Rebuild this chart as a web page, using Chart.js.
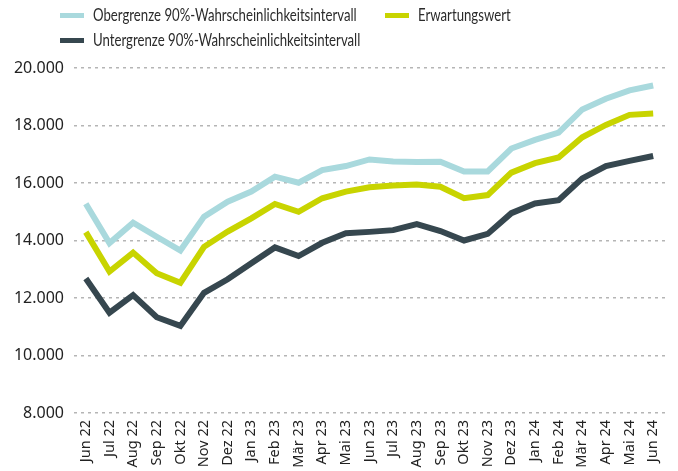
<!DOCTYPE html>
<html>
<head>
<meta charset="utf-8">
<script src="https://cdn.jsdelivr.net/npm/chart.js@4"></script>
<style>
    html, body { margin: 0; padding: 0; background: #fff; }
    #wrap { position: relative; width: 678px; height: 471px; }
    #legend { position: absolute; left: 60px; top: 5px; font-family: Lato, sans-serif; font-size: 16.5px; color: #2b2b2b;
              display: grid; grid-template-columns: 325px auto; row-gap: 5px; white-space: nowrap; }
    .item { display: flex; align-items: center; height: 20px; }
    .swatch { flex: 0 0 24px; height: 5px; margin-right: 9px; }
    .txt { display: inline-block; transform: scaleX(0.8); transform-origin: left center; }
</style>
</head>
<body>
<div id="wrap">
    <div id="legend"></div>
    <canvas id="chart" width="678" height="471"></canvas>
</div>
<script>
// ======================= DATEN =======================
const monate = ["Jun 22", "Jul 22", "Aug 22", "Sep 22", "Okt 22", "Nov 22", "Dez 22", "Jan 23", "Feb 23", "Mär 23",
    "Apr 23", "Mai 23", "Jun 23", "Jul 23", "Aug 23", "Sep 23", "Okt 23", "Nov 23", "Dez 23", "Jan 24",
    "Feb 24", "Mär 24", "Apr 24", "Mai 24", "Jun 24"];

const obergrenze = [15280, 13910, 14620, 14130, 13650, 14830, 15350, 15700, 16220, 16010,
    16450, 16590, 16820, 16750, 16730, 16740, 16400, 16400, 17200, 17500,
    17750, 18560, 18930, 19220, 19390];

const erwartungswert = [14290, 12920, 13580, 12860, 12530, 13780, 14310, 14770, 15270, 15000,
    15470, 15700, 15850, 15910, 15950, 15870, 15470, 15580, 16360, 16690,
    16890, 17590, 18020, 18370, 18420];

const untergrenze = [12680, 11490, 12100, 11330, 11030, 12180, 12650, 13210, 13760, 13460,
    13920, 14250, 14300, 14360, 14570, 14330, 14000, 14230, 14950, 15290,
    15400, 16160, 16590, 16770, 16940];

const yTicks = [8000, 10000, 12000, 14000, 16000, 18000, 20000];

// ======================= LEGENDE =======================
const serien = [
    { name: "Obergrenze 90%-Wahrscheinlichkeitsintervall", data: obergrenze, color: "#a9d9dd" },
    { name: "Erwartungswert", data: erwartungswert, color: "#c8d400" },
    { name: "Untergrenze 90%-Wahrscheinlichkeitsintervall", data: untergrenze, color: "#36474f" }
];

const legend = document.getElementById("legend");
serien.forEach(s => {
    const item = document.createElement("div");
    item.className = "item";
    item.innerHTML = `<span class="swatch" style="background:${s.color}"></span><span class="txt">${s.name}</span>`;
    legend.appendChild(item);
});

// ======================= DIAGRAMM =======================
function drawChart() {
    const ctx = document.getElementById("chart");

    new Chart(ctx, {
        type: "line",
        data: {
            labels: monate,
            datasets: serien.map(s => ({
                label: s.name,
                data: s.data,
                borderColor: s.color,
                backgroundColor: s.color,
                borderWidth: 6,
                pointRadius: 0,
                tension: 0
            }))
        },
        options: {
            responsive: false,
            animation: false,
            layout: { padding: { top: 68, right: 13, left: 8, bottom: 3 } },
            plugins: {
                legend: { display: false },
                tooltip: { enabled: false }
            },
            scales: {
                x: {
                    offset: true,
                    grid: { display: false, drawTicks: false },
                    border: { display: false },
                    ticks: {
                        minRotation: 90,
                        maxRotation: 90,
                        autoSkip: false,
                        padding: 7,
                        color: "#222",
                        font: { family: "'Noto Sans'", size: 14.5 }
                    },
                    afterFit: axis => { axis.height = 55; }
                },
                y: {
                    min: 8000,
                    max: 20000,
                    afterBuildTicks: axis => { axis.ticks = yTicks.map(v => ({ value: v })); },
                    grid: {
                        color: "#b5b5b5",
                        lineWidth: 1.5,
                        drawTicks: false
                    },
                    border: { display: false, dash: [3, 4] },
                    ticks: {
                        padding: 10,
                        color: "#222",
                        font: { family: "'Noto Sans'", size: 16 },
                        callback: v => v.toLocaleString("de-DE")
                    },
                    afterFit: axis => { axis.width = 66; }
                }
            }
        }
    });
}

document.fonts.load("16px 'Noto Sans'").then(drawChart, drawChart);
</script>
</body>
</html>
